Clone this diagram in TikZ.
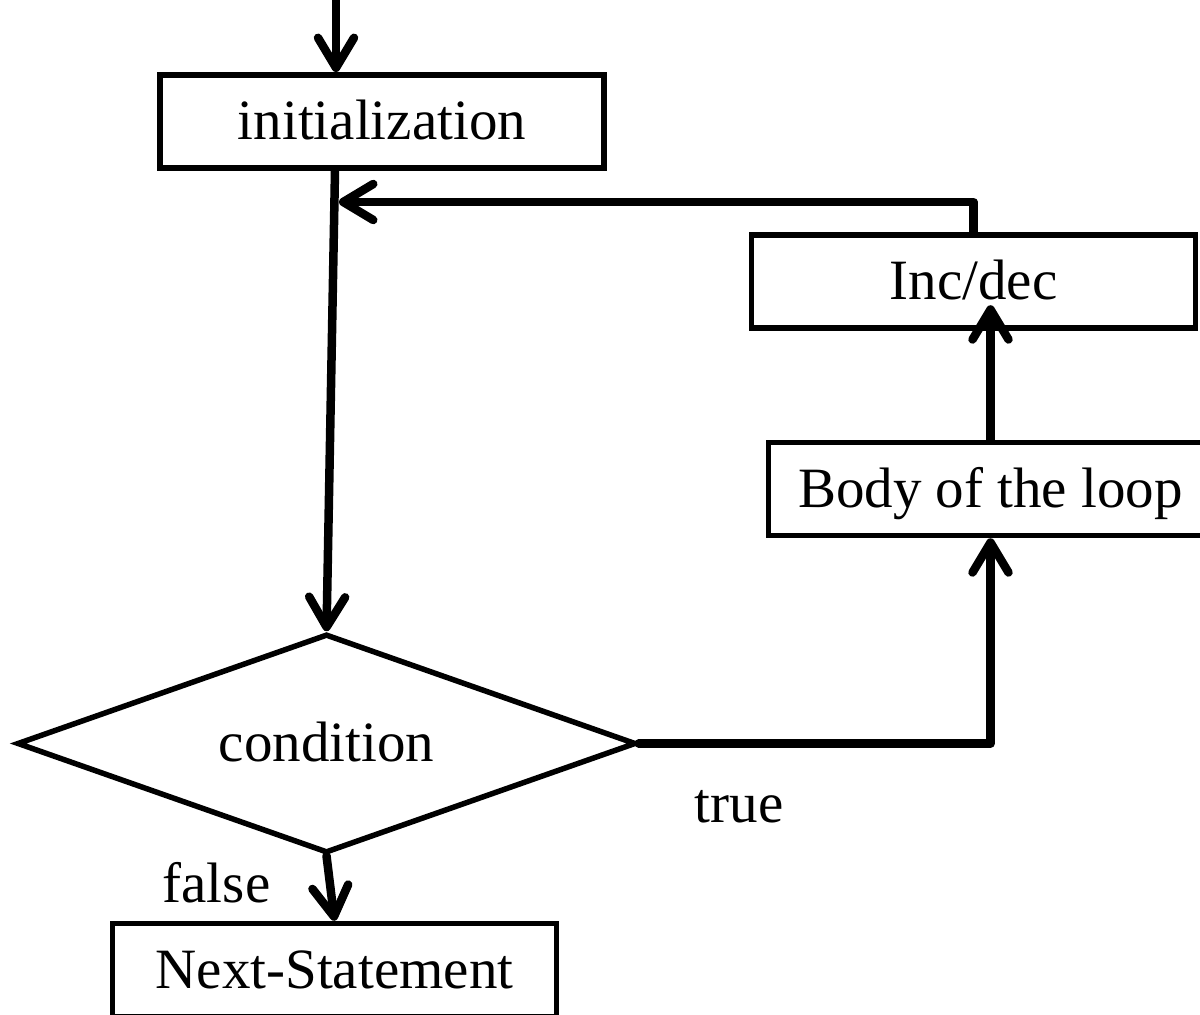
\documentclass[tikz,border=0pt]{standalone}
\usepackage{fontspec}
\setmainfont{Liberation Serif}
\usetikzlibrary{arrows.meta,shapes.geometric,calc}
\begin{document}
\begin{tikzpicture}[x=0.5pt,y=-0.5pt,
  every node/.style={font=\fontsize{28.5pt}{32pt}\selectfont, text height=24pt, text depth=5.5pt, inner sep=0pt},
  procbox/.style={draw, line width=2.75pt, rectangle, minimum width=222pt, minimum height=46.5pt},
  decision/.style={draw, line width=2.75pt, diamond, aspect=2.83, minimum width=309.5pt, minimum height=109.5pt},
  flow/.style={line width=4.25pt, line cap=round, line join=round,
    -{Straight Barb[length=15pt, width=18pt, round]}},
  edgelabel/.style={}]
  \clip (0,0) rectangle (1200,1015);
  \fill[white] (0,0) rectangle (1200,1015);

  % blocks of the loop
  \node[procbox] (init) at (382,121.3) {initialization};
  \node[procbox] (inc)  at (973.5,281.5) {Inc/dec};
  \node[procbox] (body) at (990.5,489) {Body of the loop};
  \node[decision] (cond) at (326.5,743.5) {condition};
  \node[procbox] (next) at (334.5,970) {Next-Statement};

  % labels of the branches
  \node[edgelabel] (tlabel) at (739,804) {true};
  \node[edgelabel] (flabel) at (216.5,884) {false};

  % entry and merge points
  \coordinate (entry) at (336,-20);
  \coordinate (merge) at (339,202);

  % connectors
  \draw[flow] (entry) -- (entry |- init.north);
  \draw[flow] ($(init.south)+(-47,0)$) -- (cond.north);
  \draw[flow] (inc.north) |- (merge);
  \draw[flow] (body.north) -- ($(body.north |- inc.south)+(0,-25.5)$);
  \draw[flow] (cond.east) -| (body.south);
  \draw[flow] (cond.south) -- (next.north);
\end{tikzpicture}
\end{document}
